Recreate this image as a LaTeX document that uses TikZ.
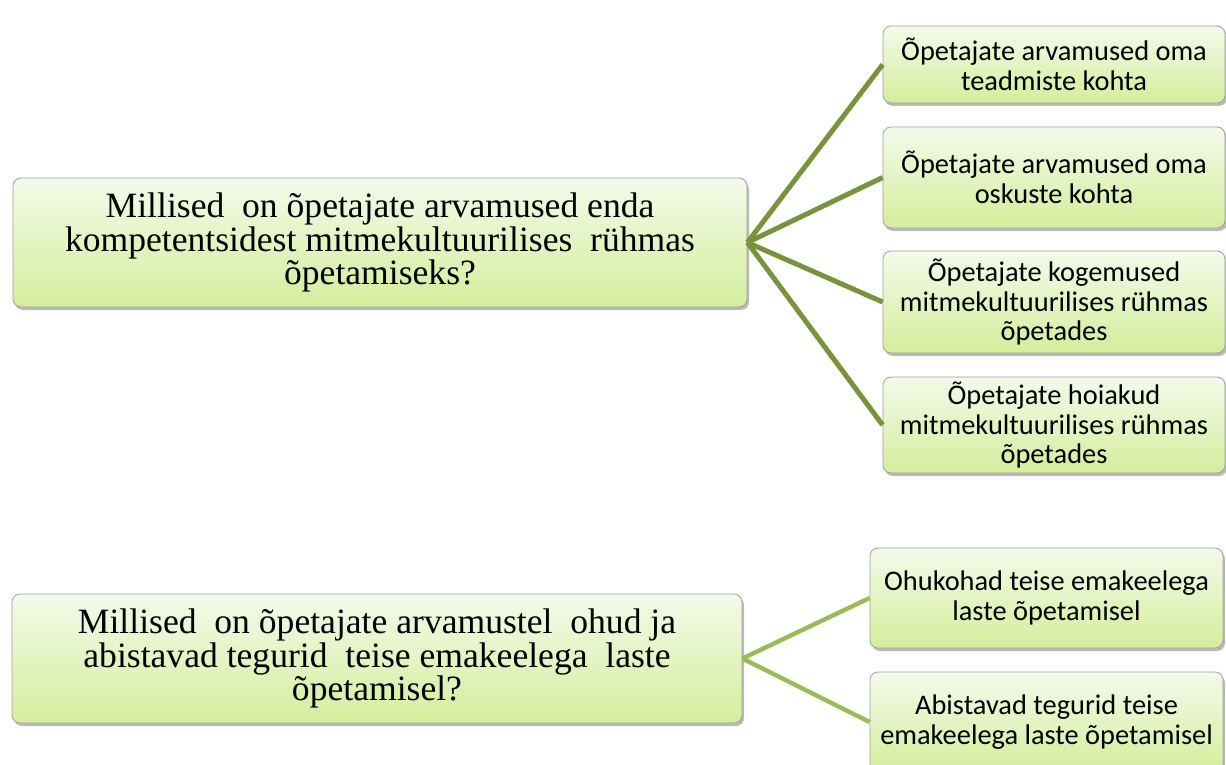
\documentclass[tikz,border=0pt]{standalone}
\usepackage{fontspec}
\setmainfont{Liberation Serif}
\newfontfamily\themefont{Carlito}
\usetikzlibrary{shadows}

\definecolor{boxtop}{HTML}{F4FAEA}
\definecolor{boxbottom}{HTML}{D3EE9C}
\definecolor{linkdark}{HTML}{77933C}
\definecolor{linklight}{HTML}{9BBB59}

\begin{document}
\begin{tikzpicture}[x=0.5pt, y=-0.5pt,
    box/.style={draw=gray!75, rounded corners=4pt, top color=boxtop,
        bottom color=boxbottom, align=center, inner sep=2pt,
        drop shadow={shadow xshift=1pt, shadow yshift=-1.5pt,
            fill=black!60, opacity=0.45}},
    question/.style={box, minimum width=367pt, minimum height=64.5pt,
        font=\fontsize{17.8}{16.8}\selectfont},
    theme/.style={box, minimum width=171pt,
        font=\themefont\fontsize{14.2}{14.8}\selectfont},
    link/.style={line width=2.5pt, linkdark},
    linklt/.style={line width=2.2pt, linklight}]

    % page size (pixels of the reference)
    \useasboundingbox (0, 0) rectangle (1226, 765);

    % Questions
    \node[question] (q1) at (380, 242.5)
        {Millised\ \ on õpetajate arvamused enda\\
         kompetentsidest mitmekultuurilises\ \ rühmas\\
         õpetamiseks?};
    \node[question, minimum width=365pt] (q2) at (377, 658.5)
        {Millised\ \ on õpetajate arvamustel\ \ ohud ja\\
         abistavad tegurid\ \ teise emakeelega\ \ laste\\
         õpetamisel?};

    % Themes of the first question
    \node[theme, minimum height=38.5pt] (t1) at (1054, 64.5)
        {Õpetajate arvamused oma\\ teadmiste kohta};
    \node[theme, minimum height=50.5pt] (t2) at (1054, 177.5)
        {Õpetajate arvamused oma\\ oskuste kohta};
    \node[theme, minimum height=51pt] (t3) at (1054, 302)
        {Õpetajate kogemused\\ mitmekultuurilises rühmas\\ õpetades};
    \node[theme, minimum height=48pt] (t4) at (1054, 425)
        {Õpetajate hoiakud\\ mitmekultuurilises rühmas\\ õpetades};

    % Themes of the second question
    \node[theme, minimum width=176.5pt, minimum height=50pt] (t5) at (1046.5, 598)
        {Ohukohad teise emakeelega\\ laste õpetamisel};
    \node[theme, minimum width=176.5pt, minimum height=50pt] (t6) at (1046.5, 722)
        {Abistavad tegurid teise\\ emakeelega laste õpetamisel};

    % Connectors
    \foreach \t in {t1, t2, t3, t4}
        \draw[link] (q1.east) -- (\t.west);
    \foreach \t in {t5, t6}
        \draw[linklt] (q2.east) -- (\t.west);

\end{tikzpicture}
\end{document}
